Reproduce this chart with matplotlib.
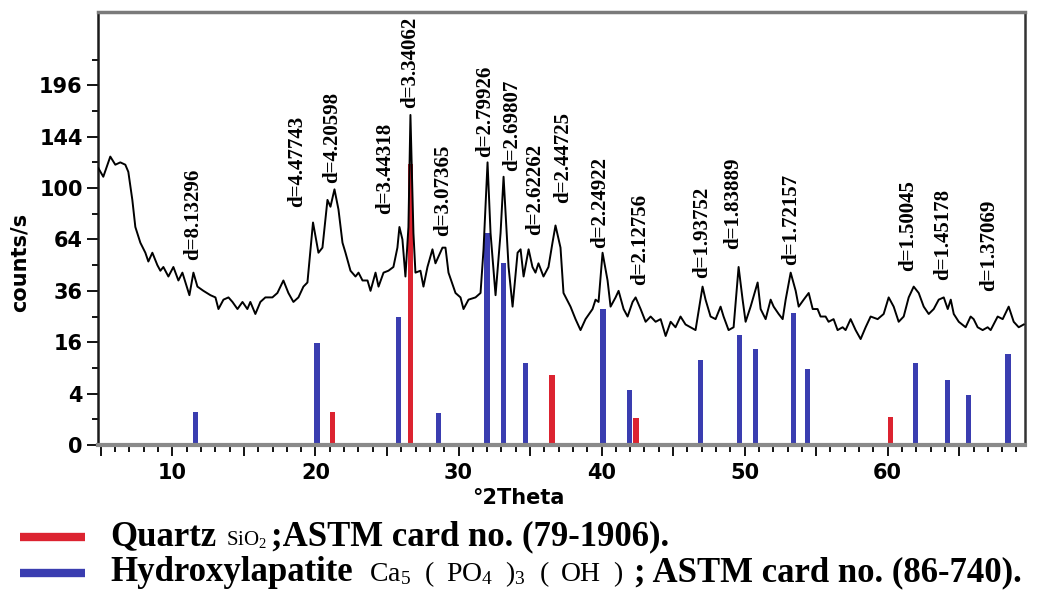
import numpy as np
import matplotlib
matplotlib.use("Agg")
import matplotlib.pyplot as plt
from matplotlib.ticker import FixedLocator, MultipleLocator, FuncFormatter, NullFormatter
from matplotlib.lines import Line2D

# ---- measured XRD pattern: 2-theta (deg) and intensity (counts/s) ----
two_theta = [
    4.83, 5.17, 5.66, 6.01, 6.36, 6.71, 6.92, 7.20, 7.41, 7.76,
    8.11, 8.32, 8.60, 8.95, 9.16, 9.37, 9.72, 10.07, 10.42, 10.70,
    11.05, 11.19, 11.47, 11.75, 12.17, 12.66, 13.01, 13.22, 13.57, 13.92,
    14.20, 14.55, 14.90, 15.24, 15.45, 15.80, 16.15, 16.50, 16.99, 17.34,
    17.76, 18.11, 18.46, 18.81, 19.16, 19.44, 19.83, 20.21, 20.49, 20.84,
    21.05, 21.33, 21.61, 21.89, 22.10, 22.45, 22.80, 23.01, 23.29, 23.64,
    23.85, 24.20, 24.41, 24.76, 25.10, 25.45, 25.73, 25.87, 26.08, 26.29,
    26.50, 26.64, 26.85, 26.99, 27.34, 27.55, 27.83, 28.18, 28.39, 28.88,
    29.09, 29.30, 29.79, 30.14, 30.35, 30.70, 31.19, 31.54, 31.75, 32.03,
    32.24, 32.59, 32.94, 33.15, 33.50, 33.78, 34.13, 34.34, 34.55, 34.90,
    35.17, 35.38, 35.59, 35.94, 36.29, 36.57, 36.78, 37.13, 37.34, 37.83,
    38.18, 38.53, 38.88, 39.37, 39.58, 39.79, 40.07, 40.42, 40.63, 40.98,
    41.19, 41.54, 41.82, 42.17, 42.38, 42.73, 43.08, 43.43, 43.78, 44.13,
    44.48, 44.83, 45.17, 45.52, 45.87, 46.22, 46.57, 47.06, 47.27, 47.62,
    47.97, 48.32, 48.53, 48.88, 49.23, 49.58, 49.86, 50.07, 50.42, 50.91,
    51.12, 51.47, 51.82, 52.03, 52.38, 52.66, 52.87, 53.22, 53.57, 53.78,
    54.13, 54.48, 54.76, 55.10, 55.31, 55.66, 55.87, 56.22, 56.50, 56.85,
    57.06, 57.41, 57.76, 58.11, 58.46, 58.81, 59.30, 59.72, 60.07, 60.42,
    60.77, 61.12, 61.47, 61.82, 62.17, 62.52, 62.87, 63.22, 63.57, 63.92,
    64.20, 64.41, 64.62, 64.97, 65.45, 65.80, 66.01, 66.29, 66.64, 66.99,
    67.20, 67.69, 68.04, 68.46, 68.81, 69.16, 69.51,
]
intensity = [
    116, 109, 126, 119, 121, 119, 113, 91, 72, 62,
    56, 51, 56, 49, 46, 48, 43, 48, 41, 45,
    37, 34, 45, 38, 36, 34, 33, 28, 32, 33,
    31, 28, 31, 28, 31, 26, 31, 33, 33, 35,
    41, 35, 31, 33, 38, 40, 75, 56, 59, 91,
    86, 99, 84, 62, 56, 46, 43, 45, 41, 41,
    36, 45, 38, 45, 46, 48, 59, 72, 64, 43,
    72, 165, 68, 45, 46, 38, 48, 58, 50, 59,
    59, 45, 35, 33, 28, 32, 33, 35, 58, 121,
    68, 34, 68, 109, 48, 29, 56, 58, 43, 58,
    48, 45, 50, 43, 48, 62, 73, 59, 35, 29,
    24, 20, 24, 28, 32, 31, 56, 41, 29, 33,
    36, 28, 25, 31, 33, 28, 23, 25, 23, 24,
    18, 23, 21, 25, 22, 21, 20, 38, 32, 25,
    24, 29, 25, 20, 21, 48, 32, 23, 29, 40,
    28, 24, 32, 29, 26, 24, 32, 45, 36, 29,
    32, 35, 28, 28, 25, 25, 23, 24, 20, 21,
    20, 24, 20, 17, 21, 25, 24, 26, 33, 29,
    23, 25, 33, 38, 35, 29, 26, 28, 32, 33,
    28, 32, 26, 23, 21, 25, 24, 21, 20, 21,
    20, 25, 24, 29, 23, 21, 22,
]

# ---- reference patterns (stick lines) ----
quartz_pos = [21.2, 26.64, 36.55, 42.4, 60.2]
quartz_int = [1.65, 120, 7.4, 1.1, 1.2]

hap_pos = [11.6, 20.1, 25.8, 28.6, 32.0, 33.15, 34.7, 40.1, 41.96,
           46.9, 49.65, 50.77, 53.4, 54.4, 61.96, 64.2, 65.67, 68.4]
hap_int = [1.65, 15.8, 24.8, 1.55, 68, 50, 10.2, 28, 4.6,
           11, 18.3, 14, 26.4, 8.7, 10.2, 6.4, 3.8, 12.5]

# ---- d-spacing annotations: label text, 2-theta of label, intensity at label base ----
d_labels = ["d=8.13296", "d=4.47743", "d=4.20598", "d=3.44318", "d=3.34062",
            "d=3.07365", "d=2.79926", "d=2.69807", "d=2.62262", "d=2.44725",
            "d=2.24922", "d=2.12756", "d=1.93752", "d=1.83889", "d=1.72157",
            "d=1.50045", "d=1.45178", "d=1.37069"]
d_label_pos = [11.47, 18.74, 21.19, 24.90, 26.64, 28.95, 31.89, 33.78, 35.38,
               37.34, 39.93, 42.73, 47.06, 49.23, 53.22, 61.40, 63.85, 67.06]
d_label_base = [52, 86, 104, 81, 172, 66, 126, 114, 67, 89,
                59, 39, 42, 58, 49, 46, 41, 36]

y_major = [0, 4, 16, 36, 64, 100, 144, 196]
y_minor = [1, 9, 25, 49, 81, 121, 169, 225]

RED = "#dc2330"
BLUE = "#3a3db0"

plt.rcParams["mathtext.fontset"] = "custom"
plt.rcParams["mathtext.rm"] = "Liberation Serif"
plt.rcParams["mathtext.it"] = "Liberation Serif:italic"
plt.rcParams["mathtext.bf"] = "Liberation Serif:bold"

W, H = 1051, 590
fig = plt.figure(figsize=(W / 100, H / 100), dpi=100)
fig.patch.set_facecolor("white")
ax = fig.add_axes([98 / W, 1 - 445 / H, (1025 - 98) / W, (445 - 12) / H])

# square-root intensity axis
ax.set_yscale("function",
              functions=(lambda v: np.sqrt(np.clip(v, 0, None)), lambda v: np.square(v)))
ax.set_xlim(4.8, 69.6)
ax.set_ylim(0, 284)

ax.bar(hap_pos, hap_int, width=0.38, color=BLUE, zorder=2)
ax.bar(quartz_pos, quartz_int, width=0.38, color=RED, zorder=2)
ax.plot(two_theta, intensity, color="black", lw=1.4, zorder=3)

serif_bold = dict(family="Liberation Serif", fontweight="bold")
for txt, xp, yb in zip(d_labels, d_label_pos, d_label_base):
    ax.text(xp, yb, txt, rotation=90, ha="center", va="bottom",
            fontsize=15, zorder=4, **serif_bold)

# ticks
ax.yaxis.set_major_locator(FixedLocator(y_major))
ax.yaxis.set_minor_locator(FixedLocator(y_minor))
ax.yaxis.set_major_formatter(FuncFormatter(lambda v, p: f"{int(round(v))}"))
ax.yaxis.set_minor_formatter(NullFormatter())
ax.xaxis.set_major_locator(MultipleLocator(5))
ax.xaxis.set_minor_locator(MultipleLocator(1))
ax.xaxis.set_major_formatter(
    FuncFormatter(lambda v, p: f"{int(round(v))}" if int(round(v)) % 10 == 0 else ""))

ax.tick_params(axis="y", which="major", length=8, width=1.3, pad=3,
               labelsize=15, direction="out")
ax.tick_params(axis="y", which="minor", length=4, width=1.3, direction="out")
ax.tick_params(axis="x", which="major", length=8, width=1.3, pad=5,
               labelsize=15, direction="out")
ax.tick_params(axis="x", which="minor", length=5, width=1.3, direction="out")
for lab in ax.get_xticklabels() + ax.get_yticklabels():
    lab.set_fontweight("bold")

ax.spines["left"].set_color("#1a1a1a")
ax.spines["left"].set_linewidth(1.8)
ax.spines["bottom"].set_color("#8a8a8a")
ax.spines["bottom"].set_linewidth(3)
ax.spines["top"].set_color("#7a7a7a")
ax.spines["top"].set_linewidth(2.5)
ax.spines["right"].set_color("#333333")
ax.spines["right"].set_linewidth(1.8)

fig.text(20 / W, 1 - 262 / H, "counts/s", rotation=90, ha="center", va="center",
         fontsize=15, fontweight="bold")
fig.text(518 / W, 1 - 498 / H, "°2Theta", ha="center", va="center",
         fontsize=15, fontweight="bold")

# ---- legend rows: coloured swatch followed by mixed-style text ----
renderer = fig.canvas.get_renderer()


def legend_row(y_px, color, pieces):
    fig.add_artist(Line2D([20 / W, 85 / W], [1 - y_px / H] * 2, color=color,
                          lw=6, solid_capstyle="butt"))
    x = 110
    base = y_px + 8
    for s, kw, gap in pieces:
        t = fig.text(x / W, 1 - base / H, s, ha="left", va="baseline", **kw)
        x += t.get_window_extent(renderer).width + gap


bold_kw = dict(family="Liberation Serif", fontweight="bold", fontsize=25)
small_kw = dict(family="Liberation Serif", fontsize=15)
formula_kw = dict(family="Liberation Serif", fontsize=20)

legend_row(537, RED, [
    ("Quartz", bold_kw, 10),
    ("SiO$_2$", small_kw, 4),
    (";ASTM card no. (79-1906).", bold_kw, 0),
])
legend_row(573, BLUE, [
    ("Hydroxylapatite", bold_kw, 16),
    ("Ca$_5$", formula_kw, 14),
    ("(", formula_kw, 12),
    ("PO$_4$", formula_kw, 12),
    (")$_3$", formula_kw, 14),
    ("(", formula_kw, 12),
    ("OH", formula_kw, 12),
    (")", formula_kw, 12),
    ("; ASTM card no. (86-740).", bold_kw, 0),
])

fig.savefig("out.png", dpi=100)
